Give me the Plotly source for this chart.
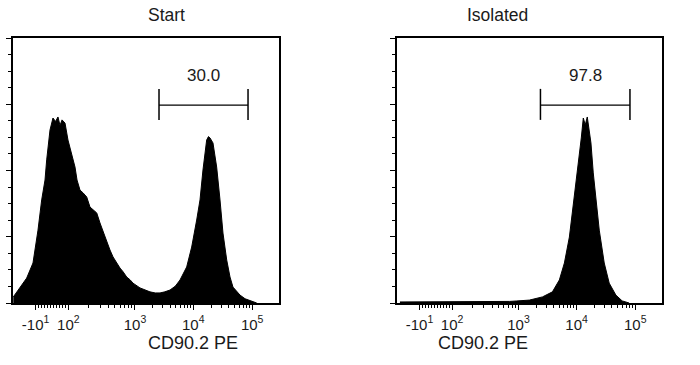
import numpy as np
import plotly.graph_objects as go

# ---- data (x in display decades of CD90.2 PE, y in % of max count axis) ----
start_x = [0.955, 1.068, 1.18, 1.286, 1.37, 1.432, 1.488, 1.516, 1.572, 1.622, 1.665, 1.706,
           1.74, 1.774, 1.824, 1.874, 1.942, 1.992, 2.026, 2.076, 2.13, 2.189, 2.244, 2.3,
           2.357, 2.412, 2.47, 2.525, 2.58, 2.631, 2.69, 2.748, 2.8, 2.861, 2.92, 2.967,
           3.084, 3.17, 3.252, 3.34, 3.421, 3.5, 3.589, 3.68, 3.757, 3.869, 3.953, 4.037,
           4.093, 4.143, 4.205, 4.235, 4.261, 4.311, 4.373, 4.429, 4.479, 4.542, 4.597,
           4.647, 4.765, 4.85, 4.933, 5.046]
start_y = [2.3, 5.7, 9.4, 15.1, 27.5, 38.9, 46.4, 54.0, 65.3, 69.8, 68.5, 70.2,
           67.0, 69.1, 67.9, 61.5, 55.1, 51.3, 46.4, 42.6, 41.5, 40.0, 36.2, 35.0,
           34.0, 30.2, 26.5, 23.0, 20.0, 17.4, 15.0, 13.2, 11.8, 9.8, 8.7, 7.5,
           5.7, 4.9, 4.2, 3.8, 3.8, 4.2, 4.9, 6.4, 8.7, 13.6, 21.1, 31.3,
           38.9, 50.2, 61.5, 62.8, 62.3, 60.4, 51.3, 38.9, 26.4, 16.2, 9.8,
           6.0, 3.0, 1.6, 0.8, 0.0]

iso_x = [1.0, 1.505, 2.009, 2.513, 2.849, 2.962, 3.185, 3.404, 3.572, 3.689, 3.774,
         3.858, 3.908, 3.970, 4.026, 4.059, 4.093, 4.126, 4.160, 4.194, 4.222, 4.261,
         4.306, 4.362, 4.446, 4.530, 4.642, 4.748, 4.866]
iso_y = [0.4, 0.4, 0.4, 0.5, 0.6, 0.75, 1.1, 2.3, 4.2, 8.7, 15.1,
         24.9, 34.0, 43.8, 55.1, 62.3, 69.8, 67.2, 70.2, 64.2, 60.4, 49.1,
         40.0, 27.5, 15.1, 7.5, 3.0, 0.8, 0.0]

panel_titles = ["Start", "Isolated"]
gate_lo = [3.404, 3.37]
gate_hi = [4.90, 4.88]
gate_pct = ["30.0", "97.8"]

tick_pos = [1.33, 1.88, 3.0, 3.98, 4.97]
tick_text = ["-10<sup>1</sup>", "10<sup>2</sup>", "10<sup>3</sup>", "10<sup>4</sup>", "10<sup>5</sup>"]
x_title = "CD90.2 PE"

# minor ticks: linear region between -10 and 100, log ticks between decades
minor = list(np.linspace(tick_pos[0], tick_pos[1], 12)[1:-1])
for a, b in zip(tick_pos[1:-1], tick_pos[2:]):
    for m in range(2, 10):
        minor.append(a + (b - a) * np.log10(m))

FONT = "Liberation Sans, Arial, sans-serif"
TXT = "#1a1a1a"

fig = go.Figure()
for i, (xs, ys) in enumerate([(start_x, start_y), (iso_x, iso_y)]):
    sfx = "" if i == 0 else "2"
    fig.add_trace(go.Scatter(x=xs, y=ys, mode="lines", fill="tozeroy",
                             fillcolor="black", line=dict(color="black", width=1),
                             xaxis="x" + sfx, yaxis="y" + sfx, showlegend=False,
                             hoverinfo="skip"))

xr = [0.95, 0.95 + 266 / 59.5]
xdoms = [[13 / 700, 279 / 700], [397 / 700, 662 / 700]]
ydom = [62 / 365, 327 / 365]

layout = dict(width=700, height=365, margin=dict(l=0, r=0, t=0, b=0),
              paper_bgcolor="white", plot_bgcolor="white", showlegend=False)
shapes, annotations = [], []
for i in range(2):
    sfx = "" if i == 0 else "2"
    layout["xaxis" + sfx] = dict(
        domain=xdoms[i], range=xr, anchor="y" + sfx, showgrid=False, zeroline=False,
        showline=True, mirror=True, linecolor="black", linewidth=1.5,
        tickmode="array", tickvals=tick_pos, ticktext=tick_text, ticks="outside",
        ticklen=5, tickwidth=1, tickcolor="black", ticklabelstandoff=2,
        tickfont=dict(family=FONT, size=15, color=TXT),
        minor=dict(tickmode="array", tickvals=minor, ticks="outside", ticklen=3,
                   tickwidth=1, tickcolor="black"))
    layout["yaxis" + sfx] = dict(
        domain=ydom, range=[0, 100], anchor="x" + sfx, showgrid=False, zeroline=False,
        showline=True, mirror=True, linecolor="black", linewidth=1.5,
        tickmode="array", tickvals=[0, 25, 50, 75, 100], showticklabels=False,
        ticks="outside", ticklen=5, tickwidth=1, tickcolor="black",
        minor=dict(tickmode="array", tickvals=[6.25 * k for k in range(17)],
                   ticks="outside", ticklen=3, tickwidth=1, tickcolor="black"))
    xref, yref = "x" + sfx, "y" + sfx
    gy, cap_lo, cap_hi = 74.7, 69.1, 80.8
    shapes.append(dict(type="line", xref=xref, yref=yref, x0=gate_lo[i], x1=gate_hi[i],
                       y0=gy, y1=gy, line=dict(color="black", width=1.2)))
    for gx in (gate_lo[i], gate_hi[i]):
        shapes.append(dict(type="line", xref=xref, yref=yref, x0=gx, x1=gx,
                           y0=cap_lo, y1=cap_hi, line=dict(color="black", width=1.5)))
    annotations.append(dict(xref=xref, yref=yref, x=(gate_lo[i] + gate_hi[i]) / 2, y=86,
                            text=gate_pct[i], showarrow=False,
                            font=dict(family=FONT, size=17, color=TXT)))
    xc = (xdoms[i][0] + xdoms[i][1]) / 2
    annotations.append(dict(xref="paper", yref="paper", x=xc, y=1 - 14.5 / 365,
                            text=panel_titles[i], showarrow=False, yanchor="middle",
                            font=dict(family=FONT, size=17.5, color=TXT)))
    annotations.append(dict(xref="paper", yref="paper", x=xc, y=1 - 342.5 / 365,
                            text=x_title, showarrow=False, yanchor="middle",
                            font=dict(family=FONT, size=18, color=TXT)))

layout["shapes"] = shapes
layout["annotations"] = annotations
fig.update_layout(**layout)
fig.write_html("out.html", config={"displayModeBar": False},
               post_script="document.body.style.margin='0';")
